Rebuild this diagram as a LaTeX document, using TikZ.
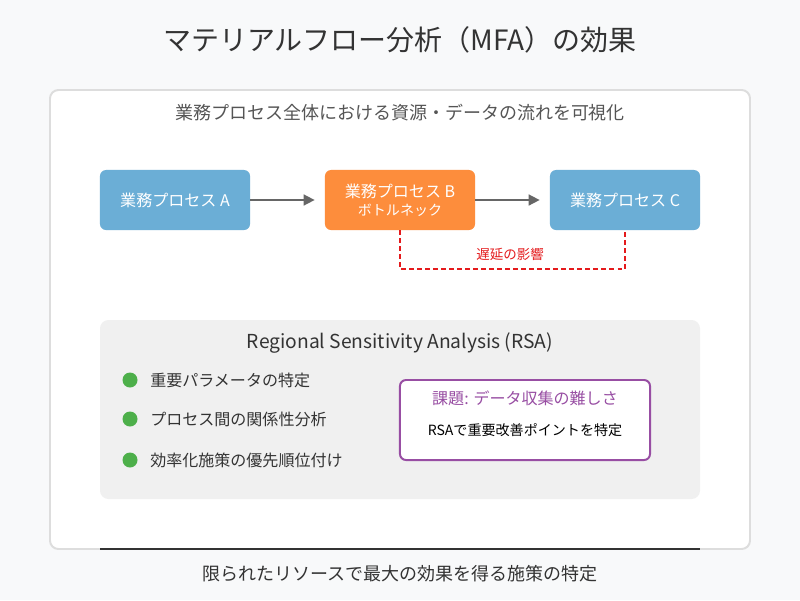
\documentclass[tikz,border=0pt]{standalone}
\usepackage{fontspec}
\setmainfont{Noto Sans CJK JP}
\usetikzlibrary{arrows.meta}

\definecolor{pagebg}{HTML}{F8F9FA}
\definecolor{frameline}{HTML}{DDDDDD}
\definecolor{panelgray}{HTML}{F0F0F0}
\definecolor{procblue}{HTML}{6BAED6}
\definecolor{procorange}{HTML}{FD8D3C}
\definecolor{arrowgray}{HTML}{666666}
\definecolor{delayred}{HTML}{E41A1C}
\definecolor{dotgreen}{HTML}{4DAF4A}
\definecolor{issuepurple}{HTML}{984EA3}
\definecolor{textdark}{HTML}{333333}
\definecolor{textgray}{HTML}{555555}

\tikzset{
  procbox/.style={rounded corners=4.3pt, minimum width=3.75cm, minimum height=1.5cm,
    inner sep=0pt, align=center, text=white, font=\fontsize{11.4}{14}\selectfont},
  flowarrow/.style={draw=arrowgray, line width=2.1pt, -{Triangle[length=8pt,width=7.5pt]}, shorten >=7pt},
  dot/.style={circle, fill=dotgreen, minimum size=0.375cm, inner sep=0pt},
  itemtext/.style={anchor=west, inner sep=0pt, text=textdark, font=\fontsize{11.4}{13}\selectfont}
}

\begin{document}
\begin{tikzpicture}[x=0.025cm, y=-0.025cm]
\useasboundingbox (0,0) rectangle (800,600);
\fill [pagebg] (0,0) rectangle (800,600);

\node [text=textdark, font=\fontsize{19.9}{22}\selectfont] (title) at (400,40) {マテリアルフロー分析（MFA）の効果};

\draw [frameline, fill=white, line width=1.4pt, rounded corners=6pt] (50,90) rectangle (750,549);
\node [text=textgray, font=\fontsize{12.8}{14}\selectfont] (sub) at (400,113) {業務プロセス全体における資源・データの流れを可視化};

% process chain
\node [procbox, fill=procblue] (procA) at (175,200) {業務プロセス A};
\node [procbox, fill=procorange] (procB) at (400,200) {業務プロセス B\\[-1pt]{\fontsize{10}{12}\selectfont ボトルネック}};
\node [procbox, fill=procblue] (procC) at (625,200) {業務プロセス C};
\draw [flowarrow] (procA) -- (procB);
\draw [flowarrow] (procB) -- (procC);
\draw [delayred, line width=1.4pt, dash pattern=on 3.5pt off 2.2pt] (procB.south) -- ++(0,39) -| (procC.south);
\node [text=delayred, font=\fontsize{9.6}{11}\selectfont] (delay) at (510,254) {遅延の影響};

% RSA panel
\fill [panelgray, rounded corners=6pt] (100,320) rectangle (700,499);
\node [text=textdark, font=\fontsize{13.7}{15}\selectfont] (rsa) at (400,343) {Regional Sensitivity Analysis (RSA)};
\node [dot] (d1) at (130,380) {};
\node [dot] (d2) at (130,419) {};
\node [dot] (d3) at (130,460) {};
\node [itemtext] (t1) at (150,380) {重要パラメータの特定};
\node [itemtext] (t2) at (150,419) {プロセス間の関係性分析};
\node [itemtext] (t3) at (150,460) {効率化施策の優先順位付け};

\node [draw=issuepurple, line width=1.4pt, fill=white, rounded corners=4.3pt, minimum width=6.25cm, minimum height=2cm] (issue) at (525,420) {};
\node [text=issuepurple, font=\fontsize{11.4}{13}\selectfont] (issuetitle) at (525,398) {課題: データ収集の難しさ};
\node [text=black, font=\fontsize{10}{12}\selectfont] (issuetext) at (525,430) {RSAで重要改善ポイントを特定};

\draw [textdark, line width=1.4pt] (100,549) -- (700,549);
\node [text=textdark, font=\fontsize{12.8}{14}\selectfont] (foot) at (400,574) {限られたリソースで最大の効果を得る施策の特定};
\end{tikzpicture}
\end{document}
